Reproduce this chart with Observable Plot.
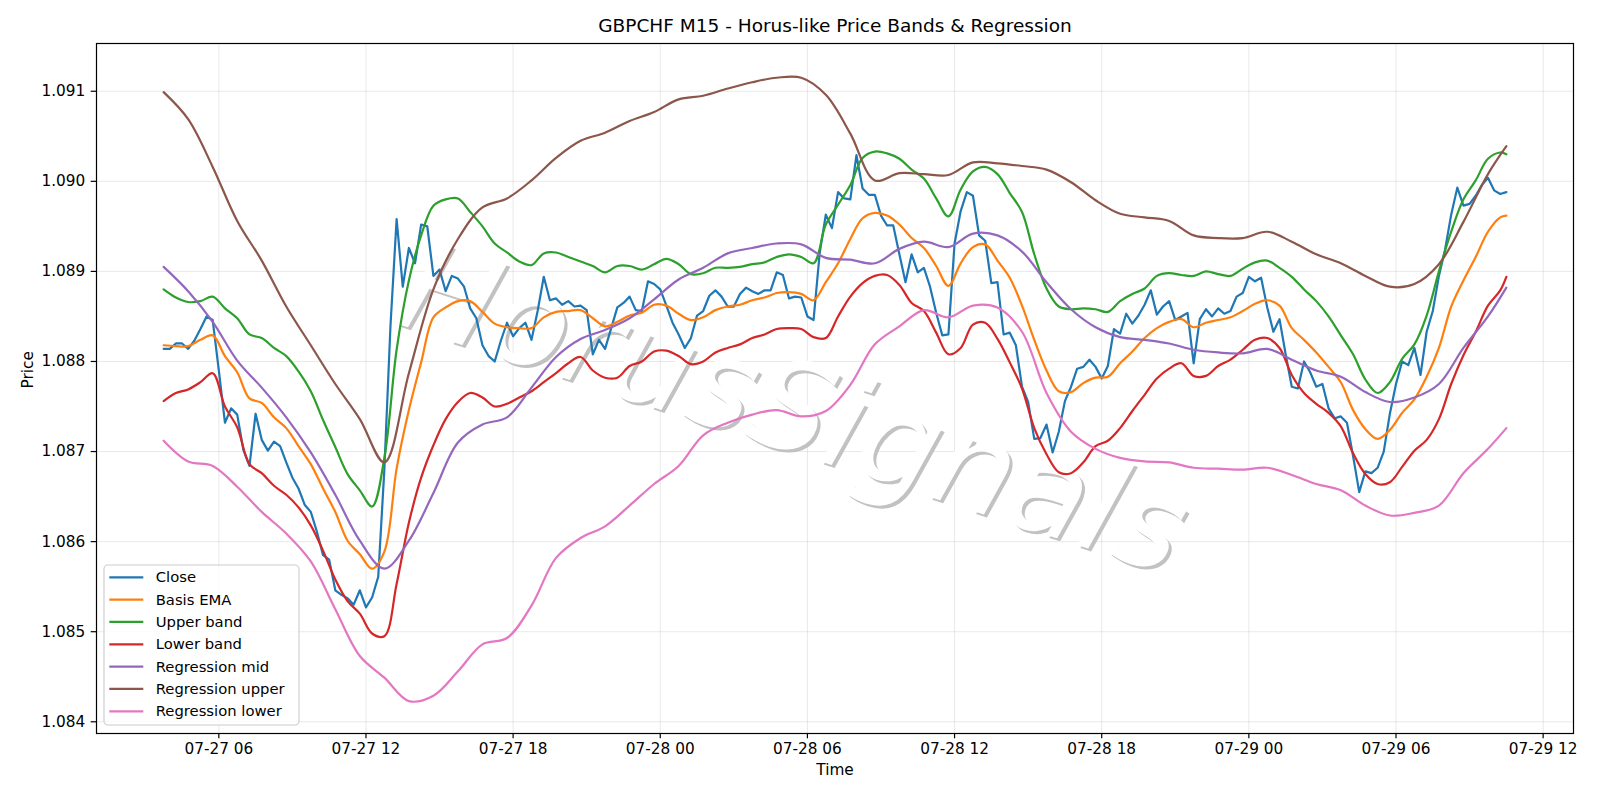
<!DOCTYPE html>
<html><head><meta charset="utf-8">
<script src="https://cdn.jsdelivr.net/npm/d3@7"></script>
<script src="https://cdn.jsdelivr.net/npm/@observablehq/plot@0.6"></script>
<style>
body{margin:0;background:#fff;}
#chart{position:relative;width:1600px;height:800px;}
</style></head><body><div id="chart"></div>
<script>
const titleText = "GBPCHF M15 - Horus-like Price Bands & Regression";
const xLabel = "Time";
const yLabel = "Price";
const watermark = "HorusSignals";
const startTime = "2022-07-27T03:45:00Z";
const barMinutes = 15;

// Close, every 15 minutes
const closeSeries = [
1.08814,1.08814,1.08820,1.08820,1.08814,1.08823,1.08836,1.08850,1.08846,1.08790,
1.08732,1.08748,1.08741,1.08702,1.08684,1.08742,1.08713,1.08701,1.08711,1.08706,
1.08688,1.08671,1.08659,1.08641,1.08633,1.08611,1.08585,1.08580,1.08546,1.08541,
1.08537,1.08530,1.08546,1.08527,1.08538,1.08561,1.08680,1.08840,1.08958,1.08883,
1.08926,1.08909,1.08952,1.08950,1.08895,1.08902,1.08878,1.08895,1.08892,1.08883,
1.08859,1.08848,1.08818,1.08806,1.08800,1.08823,1.08843,1.08828,1.08837,1.08843,
1.08824,1.08856,1.08894,1.08868,1.08870,1.08863,1.08867,1.08861,1.08862,1.08857,
1.08808,1.08824,1.08814,1.08837,1.08860,1.08865,1.08872,1.08857,1.08856,1.08889,
1.08886,1.08880,1.08862,1.08843,1.08830,1.08815,1.08826,1.08851,1.08856,1.08873,
1.08879,1.08872,1.08861,1.08861,1.08875,1.08882,1.08878,1.08875,1.08879,1.08879,
1.08899,1.08896,1.08870,1.08872,1.08871,1.08850,1.08846,1.08920,1.08963,1.08948,
1.08988,1.08981,1.08980,1.09029,1.08992,1.08985,1.08985,1.08962,1.08951,1.08951,
1.08919,1.08888,1.08919,1.08899,1.08904,1.08883,1.08854,1.08829,1.08830,1.08931,
1.08967,1.08988,1.08984,1.08940,1.08934,1.08887,1.08888,1.08830,1.08832,1.08818,
1.08772,1.08755,1.08714,1.08715,1.08730,1.08699,1.08722,1.08756,1.08772,1.08792,
1.08794,1.08802,1.08794,1.08781,1.08795,1.08836,1.08831,1.08853,1.08842,1.08851,
1.08863,1.08879,1.08852,1.08861,1.08867,1.08846,1.08850,1.08854,1.08798,1.08847,
1.08858,1.08850,1.08859,1.08853,1.08856,1.08872,1.08876,1.08894,1.08889,1.08893,
1.08860,1.08833,1.08847,1.08808,1.08772,1.08770,1.08800,1.08788,1.08772,1.08775,
1.08748,1.08737,1.08739,1.08732,1.08695,1.08655,1.08678,1.08676,1.08682,1.08700,
1.08742,1.08775,1.08800,1.08796,1.08815,1.08785,1.08833,1.08856,1.08895,1.08924,
1.08963,1.08993,1.08973,1.08975,1.08984,1.08996,1.09004,1.08990,1.08986,1.08988
];

// Bands, read every 30 minutes (last value at the final bar)
const basisEma = [
1.08818,1.08817,1.08817,1.08824,1.08829,1.08806,1.08788,1.08759,1.08754,1.08738,
1.08726,1.08706,1.08686,1.08659,1.08633,1.08601,1.08586,1.08570,1.08589,1.08681,
1.08746,1.08799,1.08849,1.08860,1.08867,1.08867,1.08855,1.08842,1.08838,1.08837,
1.08837,1.08849,1.08855,1.08856,1.08857,1.08848,1.08839,1.08844,1.08851,1.08854,
1.08863,1.08862,1.08853,1.08846,1.08849,1.08857,1.08861,1.08863,1.08868,1.08871,
1.08876,1.08877,1.08875,1.08868,1.08888,1.08909,1.08936,1.08959,1.08965,1.08962,
1.08952,1.08937,1.08926,1.08906,1.08884,1.08909,1.08927,1.08930,1.08912,1.08893,
1.08862,1.08824,1.08790,1.08767,1.08766,1.08776,1.08782,1.08783,1.08798,1.08811,
1.08826,1.08837,1.08844,1.08847,1.08838,1.08843,1.08846,1.08849,1.08856,1.08864,
1.08868,1.08862,1.08837,1.08824,1.08810,1.08794,1.08777,1.08746,1.08725,1.08714,
1.08724,1.08743,1.08758,1.08783,1.08815,1.08861,1.08890,1.08916,1.08944,1.08960,
1.08962
];
const upperBand = [
1.08880,1.08871,1.08866,1.08867,1.08872,1.08859,1.08848,1.08830,1.08826,1.08815,
1.08806,1.08789,1.08767,1.08735,1.08705,1.08675,1.08657,1.08639,1.08693,1.08813,
1.08890,1.08940,1.08973,1.08980,1.08981,1.08966,1.08950,1.08931,1.08921,1.08911,
1.08907,1.08920,1.08921,1.08916,1.08911,1.08906,1.08899,1.08906,1.08906,1.08902,
1.08908,1.08914,1.08908,1.08897,1.08898,1.08904,1.08904,1.08905,1.08908,1.08910,
1.08916,1.08919,1.08916,1.08909,1.08952,1.08974,1.08996,1.09026,1.09033,1.09031,
1.09025,1.09013,1.09003,1.08981,1.08961,1.08991,1.09011,1.09016,1.09008,1.08987,
1.08966,1.08919,1.08881,1.08861,1.08858,1.08859,1.08858,1.08855,1.08867,1.08875,
1.08881,1.08895,1.08898,1.08896,1.08895,1.08900,1.08897,1.08895,1.08903,1.08910,
1.08912,1.08904,1.08894,1.08880,1.08867,1.08850,1.08829,1.08808,1.08780,1.08765,
1.08777,1.08803,1.08819,1.08851,1.08900,1.08944,1.08980,1.09001,1.09025,1.09032,
1.09030
];
const lowerBand = [
1.08756,1.08765,1.08769,1.08777,1.08787,1.08750,1.08727,1.08686,1.08676,1.08662,
1.08652,1.08638,1.08618,1.08590,1.08558,1.08534,1.08520,1.08498,1.08495,1.08553,
1.08621,1.08671,1.08707,1.08736,1.08755,1.08765,1.08760,1.08750,1.08753,1.08760,
1.08767,1.08777,1.08787,1.08798,1.08805,1.08790,1.08782,1.08782,1.08795,1.08800,
1.08811,1.08812,1.08806,1.08797,1.08800,1.08810,1.08815,1.08819,1.08826,1.08830,
1.08836,1.08837,1.08836,1.08827,1.08826,1.08850,1.08872,1.08887,1.08895,1.08896,
1.08885,1.08865,1.08856,1.08832,1.08808,1.08815,1.08841,1.08843,1.08825,1.08799,
1.08770,1.08726,1.08697,1.08677,1.08676,1.08688,1.08706,1.08712,1.08726,1.08745,
1.08763,1.08781,1.08792,1.08798,1.08784,1.08784,1.08795,1.08802,1.08813,1.08824,
1.08826,1.08815,1.08785,1.08765,1.08753,1.08743,1.08728,1.08698,1.08675,1.08664,
1.08666,1.08683,1.08701,1.08713,1.08736,1.08775,1.08807,1.08833,1.08862,1.08879,
1.08894
];

// Regression channel, read every hour (last value at the final bar)
const regressionMid = [
1.08905,1.08878,1.08844,1.08801,1.08771,1.08738,1.08699,1.08652,1.08601,1.08570,
1.08601,1.08654,1.08710,1.08730,1.08738,1.08771,1.08805,1.08825,1.08835,1.08848,
1.08869,1.08891,1.08904,1.08920,1.08926,1.08931,1.08930,1.08915,1.08913,1.08909,
1.08925,1.08933,1.08927,1.08942,1.08940,1.08922,1.08888,1.08858,1.08838,1.08827,
1.08824,1.08820,1.08813,1.08810,1.08809,1.08814,1.08802,1.08790,1.08783,1.08766,
1.08755,1.08760,1.08775,1.08815,1.08850,1.08882
];
const regressionUpper = [
1.09099,1.09069,1.09016,1.08956,1.08912,1.08861,1.08818,1.08775,1.08736,1.08688,
1.08787,1.08880,1.08936,1.08971,1.08981,1.09001,1.09026,1.09045,1.09054,1.09067,
1.09077,1.09091,1.09095,1.09103,1.09110,1.09115,1.09115,1.09096,1.09053,1.09001,
1.09009,1.09008,1.09007,1.09021,1.09020,1.09017,1.09013,1.08999,1.08979,1.08964,
1.08960,1.08956,1.08940,1.08937,1.08937,1.08944,1.08933,1.08919,1.08909,1.08895,
1.08883,1.08886,1.08908,1.08955,1.09008,1.09039
];
const regressionLower = [
1.08712,1.08689,1.08684,1.08661,1.08633,1.08609,1.08578,1.08525,1.08473,1.08449,
1.08423,1.08429,1.08456,1.08486,1.08493,1.08529,1.08582,1.08604,1.08617,1.08640,
1.08664,1.08684,1.08718,1.08732,1.08741,1.08746,1.08739,1.08745,1.08774,1.08819,
1.08839,1.08857,1.08849,1.08862,1.08860,1.08833,1.08765,1.08722,1.08703,1.08693,
1.08689,1.08688,1.08682,1.08681,1.08680,1.08682,1.08674,1.08664,1.08657,1.08640,
1.08629,1.08632,1.08640,1.08676,1.08703,1.08726
];

const seriesNames = ["Close","Basis EMA","Upper band","Lower band","Regression mid","Regression upper","Regression lower"];
const seriesColors = ["#1f77b4","#ff7f0e","#2ca02c","#d62728","#9467bd","#8c564b","#e377c2"];
const seriesValues = [closeSeries, basisEma, upperBand, lowerBand, regressionMid, regressionUpper, regressionLower];
const seriesStride = [1, 2, 2, 2, 4, 4, 4];

const xTickLabels = ["2022-07-27T06:00Z","2022-07-27T12:00Z","2022-07-27T18:00Z","2022-07-28T00:00Z","2022-07-28T06:00Z","2022-07-28T12:00Z","2022-07-28T18:00Z","2022-07-29T00:00Z","2022-07-29T06:00Z","2022-07-29T12:00Z"];
const yTickValues = [1.084,1.085,1.086,1.087,1.088,1.089,1.090,1.091];

const t0 = Date.parse(startTime);
const stepMs = barMinutes * 60000;
const lastK = closeSeries.length - 1;
const tEnd = t0 + lastK * stepMs;
const span = tEnd - t0;
const xDomain = [new Date(t0 - span * 0.05), new Date(tEnd + span * 0.05)];
const xTicks = xTickLabels.map(s => new Date(s));

const lineMarks = seriesValues.map((vals, si) => {
  const rows = vals.map((v, i) => ({t: new Date(t0 + Math.min(i * seriesStride[si], lastK) * stepMs), v}));
  return Plot.line(rows, {x: "t", y: "v", stroke: seriesColors[si], strokeWidth: 2.2,
    curve: seriesStride[si] === 1 ? "linear" : "catmull-rom"});
});

const font = "'DejaVu Sans', sans-serif";
const tickFont = 15.3;
const wm = {frameAnchor: "middle", rotate: 18, fontSize: 125, fontStyle: "italic"};
const chart = Plot.plot({
  width: 1600, height: 800,
  marginLeft: 96, marginRight: 27, marginTop: 43, marginBottom: 67,
  style: {fontFamily: font, fontSize: tickFont + "px", background: "white", color: "black", overflow: "visible"},
  x: {type: "utc", domain: xDomain},
  y: {domain: [1.08387, 1.09153]},
  marks: [
    Plot.gridX(xTicks, {stroke: "#b0b0b0", strokeOpacity: 0.35, strokeWidth: 0.8}),
    Plot.gridY(yTickValues, {stroke: "#b0b0b0", strokeOpacity: 0.35, strokeWidth: 0.8}),
    Plot.text([watermark], {...wm, dx: -39, dy: 25, fill: "#c2c2c2"}),
    Plot.text([watermark], {...wm, dx: -42, dy: 22, fill: "white"}),
    ...lineMarks,
    Plot.frame({stroke: "black", strokeWidth: 1.2}),
    Plot.axisX(xTicks, {tickSize: 5.3, tickPadding: 4.7, tickFormat: d3.utcFormat("%m-%d %H"), label: null, strokeWidth: 1.2, fontSize: tickFont}),
    Plot.axisY(yTickValues, {tickSize: 5.3, tickPadding: 6, tickFormat: d3.format(".3f"), label: null, strokeWidth: 1.2, fontSize: tickFont}),
    Plot.text([titleText], {frameAnchor: "top", dy: -17, fontSize: 18.5, lineAnchor: "middle"}),
    Plot.text([xLabel], {frameAnchor: "bottom", dy: 37, fontSize: tickFont, lineAnchor: "middle"}),
    Plot.text([yLabel], {frameAnchor: "left", dx: -68.5, rotate: -90, fontSize: tickFont, lineAnchor: "middle"})
  ]
});
document.getElementById("chart").appendChild(chart);

// legend box in the lower-left corner of the axes
const svg = d3.select(chart);
const lg = svg.append("g").attr("font-family", font).attr("font-size", 14.8).attr("text-anchor", "start");
lg.append("rect").attr("x", 104).attr("y", 565).attr("width", 195).attr("height", 160)
  .attr("rx", 4).attr("fill", "white").attr("fill-opacity", 0.8).attr("stroke", "#cccccc").attr("stroke-width", 1.1);
seriesNames.forEach((name, i) => {
  const y = 577.3 + i * 22.33;
  lg.append("line").attr("x1", 109.3).attr("x2", 143.3).attr("y1", y).attr("y2", y)
    .attr("stroke", seriesColors[i]).attr("stroke-width", 2.2);
  lg.append("text").attr("x", 155.7).attr("y", y).attr("dy", "0.35em").attr("text-anchor", "start").attr("fill", "black").text(name);
});
</script>
</body></html>
